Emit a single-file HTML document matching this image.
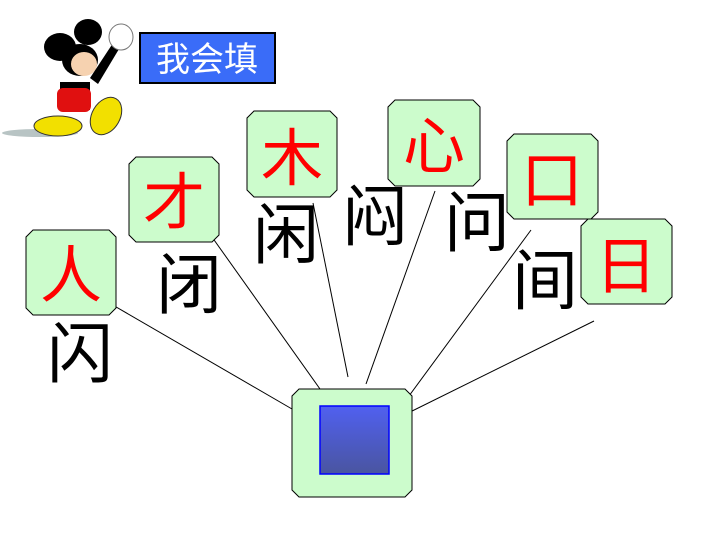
<!DOCTYPE html>
<html><head><meta charset="utf-8"><style>
html,body{margin:0;padding:0;background:#fff}
svg{display:block}
.t{font-family:"Liberation Sans","Noto Sans CJK SC",sans-serif}
</style></head><body>
<svg width="720" height="540" viewBox="0 0 720 540" xmlns="http://www.w3.org/2000/svg">
<defs>
<linearGradient id="g" x1="0" y1="0" x2="0" y2="1"><stop offset="0" stop-color="#5060f0"/><stop offset="1" stop-color="#4a55a0"/></linearGradient>
</defs>
<!-- mickey -->
<ellipse cx="40" cy="133" rx="38" ry="4" fill="#b8c4c4"/>
<ellipse cx="60" cy="47" rx="16" ry="14" fill="#000"/>
<ellipse cx="88" cy="32" rx="14" ry="13" fill="#000"/>
<ellipse cx="80" cy="60" rx="18" ry="16" fill="#000"/>
<ellipse cx="84" cy="64" rx="13" ry="12" fill="#f6d2b0"/>
<path d="M90 78 L115 40 L122 44 L98 84Z" fill="#000"/>
<ellipse cx="121" cy="37" rx="12" ry="13" fill="#fff" stroke="#777"/>
<rect x="60" y="82" width="30" height="28" fill="#000"/>
<rect x="57" y="88" width="34" height="24" rx="6" fill="#e01010"/>
<ellipse cx="58" cy="126" rx="24" ry="10" fill="#f2e000" stroke="#333"/>
<ellipse cx="106" cy="116" rx="14" ry="20" transform="rotate(30 106 116)" fill="#f2e000" stroke="#333"/>
<!-- title -->
<rect x="140" y="33" width="135" height="50" fill="#3a6cf8" stroke="#000" stroke-width="2"/>
<text x="207" y="71" text-anchor="middle" class="t" font-size="34" fill="#fff">我会填</text>
<!-- lines -->
<g stroke="#000" stroke-width="1">
<line x1="111" y1="304" x2="292" y2="409"/>
<line x1="207" y1="230" x2="320" y2="389"/>
<line x1="313" y1="203" x2="348" y2="377"/>
<line x1="435" y1="191" x2="366" y2="384"/>
<line x1="531" y1="230" x2="406" y2="400"/>
<line x1="594" y1="321" x2="400" y2="417"/>
</g>
<!-- boxes -->
<g fill="#ccfccc" stroke="#000" stroke-width="1">
<path d="M33 230H109L116 237V308L109 315H33L26 308V237Z"/>
<path d="M136 157H212L219 164V235L212 242H136L129 235V164Z"/>
<path d="M254 111H330L337 118V190L330 197H254L247 190V118Z"/>
<path d="M395 100H473L480 107V179L473 186H395L388 179V107Z"/>
<path d="M514 134H591L598 141V212L591 219H514L507 212V141Z"/>
<path d="M588 219H665L672 226V297L665 304H588L581 297V226Z"/>
<path d="M299 389H405L412 396V490L405 497H299L292 490V396Z"/>
</g>
<rect x="320" y="406" width="69" height="68" fill="url(#g)" stroke="#0000ff" stroke-width="1.5"/>
<!-- red chars -->
<g class="t" font-size="62" fill="#f00" text-anchor="middle">
<text x="71" y="297">人</text>
<text x="174" y="224">才</text>
<text x="292" y="180">木</text>
<text x="434" y="168">心</text>
<text x="552" y="202">口</text>
<text x="626" y="288">日</text>
</g>
<!-- black chars -->
<g class="t" font-size="66" fill="#000" text-anchor="middle">
<text x="80" y="377">闪</text>
<text x="189" y="308">闭</text>
<text x="286" y="258">闲</text>
<text x="375" y="240">闷</text>
<text x="477" y="246">问</text>
<text x="545" y="304">间</text>
</g>
</svg>
</body></html>
